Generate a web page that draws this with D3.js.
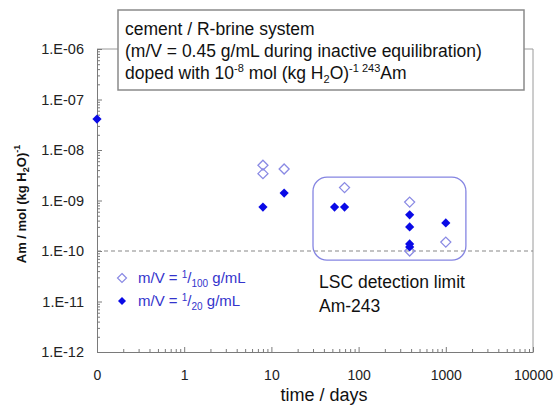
<!DOCTYPE html>
<html>
<head>
<meta charset="utf-8">
<script src="https://cdn.jsdelivr.net/npm/d3@7"></script>
<style>
  body { margin: 0; background: #fff; }
  text { font-family: "Liberation Sans", Arial, sans-serif; }
</style>
</head>
<body>
<div id="chart"></div>
<script>
// m/V = 1/100 g/mL (open diamonds)
const openDays = [8, 8, 14, 69, 385, 385, 1000];
const openAm = [5.0e-9, 3.4e-9, 4.2e-9, 1.8e-9, 9.3e-10, 1.0e-10, 1.5e-10];

// m/V = 1/20 g/mL (filled diamonds)
const filledDays = [0, 8, 14, 53, 69, 385, 385, 385, 385, 1000];
const filledAm = [4.1e-8, 7.4e-10, 1.4e-9, 7.4e-10, 7.4e-10, 5.2e-10, 3.0e-10, 1.38e-10, 1.2e-10, 3.6e-10];

// axis ticks
const xTicks = [0.1, 1, 10, 100, 1000, 10000];
const xTickLabels = ["0", "1", "10", "100", "1000", "10000"];
const yTicks = [1e-12, 1e-11, 1e-10, 1e-9, 1e-8, 1e-7, 1e-6];
const yTickLabels = ["1.E-12", "1.E-11", "1.E-10", "1.E-09", "1.E-08", "1.E-07", "1.E-06"];

// LSC detection limit and the box drawn round the late samples
const detectionLimit = 1e-10;
const boxDays = [30, 1700];
const boxAm = [2.9e-9, 6.6e-11];

const width = 556, height = 407;
const margin = {top: 49, right: 23, bottom: 55, left: 97};

const svg = d3.select("#chart")
    .append("svg")
    .attr("width", width)
    .attr("height", height);

// t = 0 sits at the left edge (0.1 position)
const xScale = d3.scaleLog()
    .domain([0.1, 10000])
    .range([margin.left, width - margin.right]);

const yScale = d3.scaleLog()
    .domain([1e-12, 1e-6])
    .range([height - margin.bottom, margin.top]);

const xPos = d => xScale(d === 0 ? 0.1 : d);

// minor ticks at 2..9 of every decade
const minors = ticks => {
    const out = [];
    ticks.slice(0, -1).forEach(t => {
        for (let k = 2; k <= 9; k++) out.push(t * k);
    });
    return out;
};

// frame (top and right)
svg.append("path")
    .attr("d", `M${margin.left},${margin.top}H${width - margin.right}V${height - margin.bottom}`)
    .attr("fill", "none")
    .attr("stroke", "#9a9a9a")
    .attr("stroke-width", 1);

// x axis
const xAxis = svg.append("g")
    .attr("transform", `translate(0,${height - margin.bottom})`)
    .call(d3.axisBottom(xScale)
        .tickValues(xTicks)
        .tickFormat((d, i) => xTickLabels[i])
        .tickSizeInner(-5).tickSizeOuter(0).tickPadding(18));

svg.append("g")
    .attr("transform", `translate(0,${height - margin.bottom})`)
    .call(d3.axisBottom(xScale).tickValues(minors(xTicks)).tickFormat("").tickSize(-3).tickSizeOuter(0))
    .call(g => g.select(".domain").remove());

// y axis
const yAxis = svg.append("g")
    .attr("transform", `translate(${margin.left},0)`)
    .call(d3.axisLeft(yScale)
        .tickValues(yTicks)
        .tickFormat((d, i) => yTickLabels[i])
        .tickSizeInner(-5).tickSizeOuter(0).tickPadding(13));

svg.append("g")
    .attr("transform", `translate(${margin.left},0)`)
    .call(d3.axisLeft(yScale).tickValues(minors(yTicks)).tickFormat("").tickSize(-3).tickSizeOuter(0))
    .call(g => g.select(".domain").remove());

svg.selectAll(".domain").attr("stroke", "#7a7a7a");
svg.selectAll(".tick line").attr("stroke", "#7a7a7a");
xAxis.selectAll("text").attr("font-size", 14).attr("fill", "#222").attr("font-family", null);
yAxis.selectAll("text").attr("font-size", 14.5).attr("fill", "#222").attr("font-family", null);

// detection limit
svg.append("line")
    .attr("x1", margin.left)
    .attr("x2", width - margin.right)
    .attr("y1", yScale(detectionLimit))
    .attr("y2", yScale(detectionLimit))
    .attr("stroke", "#888")
    .attr("stroke-width", 1.2)
    .attr("stroke-dasharray", "4,3");

// rounded box
svg.append("rect")
    .attr("x", xScale(boxDays[0]))
    .attr("y", yScale(boxAm[0]))
    .attr("width", xScale(boxDays[1]) - xScale(boxDays[0]))
    .attr("height", yScale(boxAm[1]) - yScale(boxAm[0]))
    .attr("rx", 14)
    .attr("fill", "none")
    .attr("stroke", "#8585e2")
    .attr("stroke-width", 1.3);

// diamond path
const diamond = r => `M0,${-r}L${r},0L0,${r}L${-r},0Z`;

svg.selectAll(".open")
    .data(openDays.map((d, i) => ({t: d, v: openAm[i]})))
    .enter().append("path")
    .attr("class", "open")
    .attr("d", diamond(5))
    .attr("transform", d => `translate(${xPos(d.t)},${yScale(d.v)})`)
    .attr("fill", "none")
    .attr("stroke", "#8a8ae4")
    .attr("stroke-width", 1.3);

svg.selectAll(".filled")
    .data(filledDays.map((d, i) => ({t: d, v: filledAm[i]})))
    .enter().append("path")
    .attr("class", "filled")
    .attr("d", diamond(4.6))
    .attr("transform", d => `translate(${xPos(d.t)},${yScale(d.v)})`)
    .attr("fill", "#0a0ae6");

// title box
svg.append("rect")
    .attr("x", 118).attr("y", 10)
    .attr("width", 406).attr("height", 80)
    .attr("fill", "#fff")
    .attr("stroke", "#8a8a8a")
    .attr("stroke-width", 1.5);

const title = svg.append("text")
    .attr("x", 125)
    .attr("font-size", 17.5)
    .attr("fill", "#111");
title.append("tspan").attr("x", 125).attr("y", 35).text("cement / R-brine system");
title.append("tspan").attr("x", 125).attr("y", 57).text("(m/V = 0.45 g/mL during inactive equilibration)");
const line3 = title.append("tspan").attr("x", 125).attr("y", 79);
line3.append("tspan").text("doped with 10");
line3.append("tspan").attr("dy", -7).attr("font-size", 11).text("-8");
line3.append("tspan").attr("dy", 7).text(" mol (kg H");
line3.append("tspan").attr("dy", 4).attr("font-size", 11).text("2");
line3.append("tspan").attr("dy", -4).text("O)");
line3.append("tspan").attr("dy", -7).attr("font-size", 11).text("-1 243");
line3.append("tspan").attr("dy", 7).text("Am");

// LSC label
svg.append("text")
    .attr("x", 319).attr("y", 288)
    .attr("font-size", 17.5).attr("fill", "#111")
    .text("LSC detection limit");
svg.append("text")
    .attr("x", 319).attr("y", 312)
    .attr("font-size", 17.5).attr("fill", "#111")
    .text("Am-243");

// legend
const legend = svg.append("g");
legend.append("path")
    .attr("d", diamond(4.5))
    .attr("transform", "translate(122,278)")
    .attr("fill", "none").attr("stroke", "#8a8ae4").attr("stroke-width", 1.2);
legend.append("path")
    .attr("d", diamond(4))
    .attr("transform", "translate(122,301)")
    .attr("fill", "#0a0ae6");

const legendText = (y, sub) => {
    const t = legend.append("text")
        .attr("x", 138).attr("y", y)
        .attr("font-size", 15).attr("fill", "#3434cc");
    t.append("tspan").text("m/V = ");
    t.append("tspan").attr("dy", -5).attr("font-size", 10).text("1");
    t.append("tspan").attr("dy", 5).text("/");
    t.append("tspan").attr("dy", 4).attr("font-size", 10).text(sub);
    t.append("tspan").attr("dy", -4).text(" g/mL");
};
legendText(283, "100");
legendText(306, "20");

// axis labels
svg.append("text")
    .attr("x", 324).attr("y", 401)
    .attr("text-anchor", "middle")
    .attr("font-size", 18).attr("fill", "#111")
    .text("time / days");

const yLabel = svg.append("text")
    .attr("transform", "translate(26,204) rotate(-90)")
    .attr("text-anchor", "middle")
    .attr("font-size", 13).attr("font-weight", "bold").attr("fill", "#111");
yLabel.append("tspan").text("Am / mol (kg H");
yLabel.append("tspan").attr("dy", 3).attr("font-size", 9).text("2");
yLabel.append("tspan").attr("dy", -3).text("O)");
yLabel.append("tspan").attr("dy", -6).attr("font-size", 9).text("-1");
</script>
</body>
</html>
